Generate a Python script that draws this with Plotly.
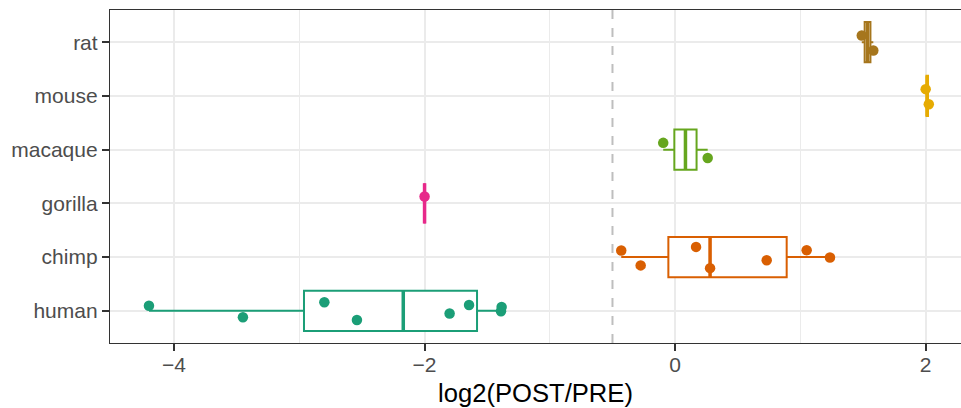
import numpy as np
import plotly.graph_objects as go

# ---- data ----
species = ["human", "chimp", "gorilla", "macaque", "mouse", "rat"]
human = [-4.20, -3.45, -2.80, -2.54, -1.80, -1.645, -1.39, -1.385]
chimp = [-0.43, -0.275, 0.167, 0.279, 0.731, 1.05, 1.236]
gorilla = [-2.0]
macaque = [-0.095, 0.26]
mouse = [2.0, 2.025]
rat = [1.49, 1.582]
values = [human, chimp, gorilla, macaque, mouse, rat]
colors = ["#1B9E77", "#D95F02", "#E7298A", "#66A61E", "#E6AB02", "#A6761D"]
threshold = -0.5
x_ticks = [-4, -2, 0, 2]

fig = go.Figure()

# boxes (ggplot-style quartiles, type 7)
for i, (name, vals, col) in enumerate(zip(species, values, colors)):
    v = np.array(vals)
    q1, med, q3 = np.percentile(v, [25, 50, 75])
    fig.add_trace(go.Box(
        y=[i], q1=[q1], median=[med], q3=[q3],
        lowerfence=[v.min()], upperfence=[v.max()],
        orientation="h", fillcolor="white",
        line=dict(color=col, width=2), whiskerwidth=0,
        boxpoints=False, showlegend=False, hoverinfo="skip",
    ))

# thicker median lines
for i, (name, vals, col) in enumerate(zip(species, values, colors)):
    med = float(np.median(vals))
    fig.add_trace(go.Box(
        y=[i], q1=[med], median=[med], q3=[med],
        lowerfence=[med], upperfence=[med],
        orientation="h", fillcolor="rgba(0,0,0,0)",
        line=dict(color=col, width=3.5), whiskerwidth=0,
        boxpoints=False, showlegend=False, hoverinfo="skip",
    ))

# jittered points
for i, (name, vals, col) in enumerate(zip(species, values, colors)):
    fig.add_trace(go.Box(
        x=vals, y=[i] * len(vals), orientation="h",
        boxpoints="all", jitter=0.65, pointpos=0,
        fillcolor="rgba(0,0,0,0)",
        line=dict(color="rgba(0,0,0,0)", width=0),
        marker=dict(color=col, size=10.5, line=dict(width=0)),
        whiskerwidth=0, showlegend=False, name=name,
    ))

fig.add_vline(x=threshold, line=dict(color="#BEBEBE", width=2, dash="dash"), layer="below")

fig.update_layout(
    width=961, height=408,
    margin=dict(l=110, r=0, t=10, b=65),
    paper_bgcolor="white", plot_bgcolor="white",
    boxmode="overlay", boxgap=0.25, boxgroupgap=0,
    font=dict(family="Liberation Sans, Arial, sans-serif"),
)
fig.update_xaxes(
    range=[-4.511, 2.282], tickvals=x_ticks,
    showgrid=True, gridcolor="#EBEBEB", gridwidth=1.5,
    minor=dict(dtick=1, tick0=0, showgrid=True, gridcolor="#EBEBEB", gridwidth=0.8),
    zeroline=False,
    showline=True, mirror=True, linecolor="#333333", linewidth=1.3,
    ticks="outside", ticklen=7, tickwidth=1.5, tickcolor="#333333",
    tickfont=dict(size=21, color="#4D4D4D"), ticklabelstandoff=-4,
    title=dict(text="log2(POST/PRE)", font=dict(size=25.6, color="black"), standoff=8),
)
fig.update_yaxes(
    range=[-0.6, 5.6], tickvals=list(range(len(species))), ticktext=species,
    showgrid=True, gridcolor="#EBEBEB", gridwidth=1.5, zeroline=False,
    showline=True, mirror=False, linecolor="#333333", linewidth=1.3,
    ticks="outside", ticklen=7, tickwidth=1.5, tickcolor="#333333",
    tickfont=dict(size=21, color="#4D4D4D"),
)

fig.write_html("out.html", config={"displayModeBar": False},
               post_script="document.body.style.margin='0';")
